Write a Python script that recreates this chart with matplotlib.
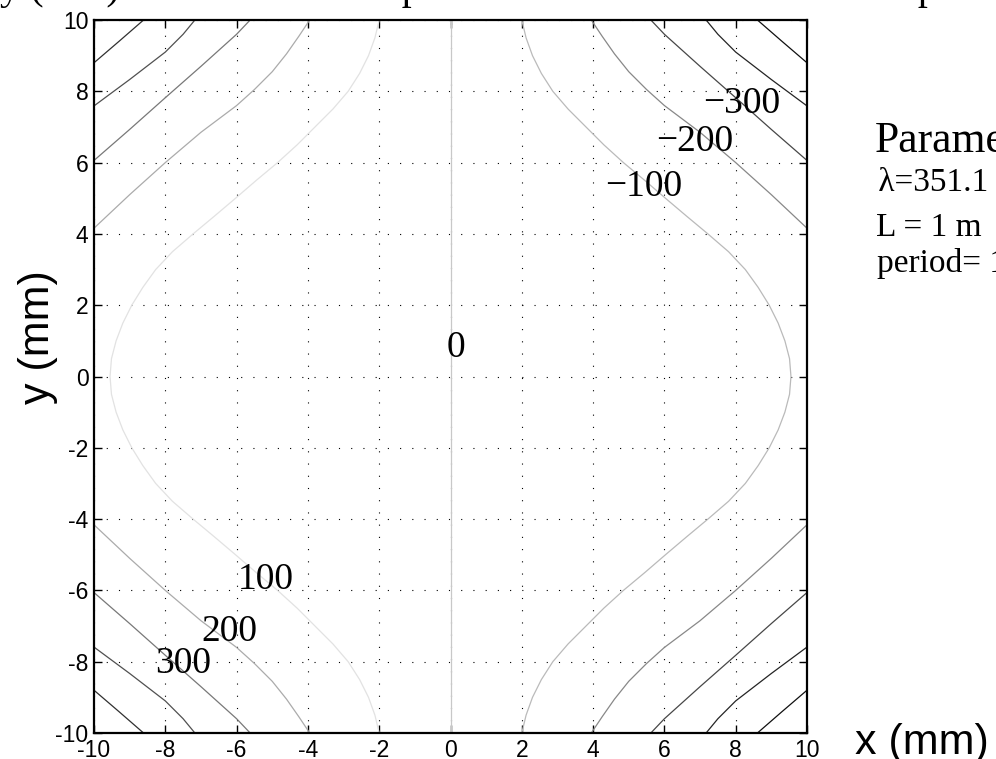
import numpy as np
import matplotlib
matplotlib.use("Agg")
import matplotlib.pyplot as plt

plt.rcParams['axes.unicode_minus'] = False

# contour levels (lower-left quadrant, positive levels)
levels = [100, 200, 300, 400, 500]

lvl100_y = [0.0, -0.5, -1.0, -1.5, -2.0, -2.5, -3.0, -3.5, -4.0, -4.5, -5.0,
            -5.5, -6.0, -6.5, -7.0, -7.5, -8.0, -8.5, -9.0, -9.5, -10.0]
lvl100_x = [-9.55, -9.51, -9.38, -9.19, -8.94, -8.63, -8.27, -7.8, -7.22, -6.62, -6.03,
            -5.45, -4.85, -4.3, -3.8, -3.3, -2.87, -2.55, -2.3, -2.12, -2.0]
lvl200_x = [-10.0, -9.0, -8.0, -7.0, -6.0, -5.5, -5.0, -4.6, -4.25, -3.95]
lvl200_y = [-4.16, -5.1, -6.0, -6.85, -7.6, -8.05, -8.55, -9.05, -9.55, -10.0]
lvl300_x = [-10.0, -9.0, -8.0, -7.0, -6.0, -5.62]
lvl300_y = [-6.06, -6.93, -7.82, -8.7, -9.6, -10.0]
lvl400_x = [-10.0, -9.0, -8.0, -7.5, -7.17]
lvl400_y = [-7.59, -8.33, -9.1, -9.6, -10.0]
lvl500_x = [-10.0, -9.3, -8.61]
lvl500_y = [-8.8, -9.4, -10.0]

# grey shade of each line (positive side, negative side)
pos_colors = ['#e2e2e2', '#ababab', '#787878', '#505050', '#303030']
neg_colors = ['#bababa', '#888888', '#474747', '#242424', '#101010']
zero_color = '#c8c8c8'

# contour labels
label_text = ['0', '100', '200', '300', '\u2212100', '\u2212200', '\u2212300']
label_x = [0.15, -5.18, -6.2, -7.51, 5.41, 6.86, 8.17]
label_y = [0.8, -5.71, -7.16, -8.05, 5.32, 6.59, 7.66]

ticks = np.arange(-10, 11, 2)

fig = plt.figure(figsize=(9.96, 7.59), dpi=100)
ax = fig.add_axes([94 / 996, 26 / 759, 713 / 996, 713 / 759])

curves_x = [lvl100_x, lvl200_x, lvl300_x, lvl400_x, lvl500_x]
curves_y = [lvl100_y, lvl200_y, lvl300_y, lvl400_y, lvl500_y]

for i in range(len(levels)):
    hx = np.array(curves_x[i])
    hy = np.array(curves_y[i])
    if hy[0] != 0.0:
        # curve leaves through the left edge: two separate pieces
        for sy in (1, -1):
            ax.plot(hx, sy * hy, color=pos_colors[i], lw=0.9)
            ax.plot(-hx, sy * hy, color=neg_colors[i], lw=0.9)
    else:
        # lower half + mirrored upper half
        fx = np.concatenate([hx[::-1], hx[1:]])
        fy = np.concatenate([-hy[::-1], hy[1:]])
        ax.plot(fx, fy, color=pos_colors[i], lw=0.9)
        ax.plot(-fx, fy, color=neg_colors[i], lw=0.9)

ax.plot([0, 0], [-10, 10], color=zero_color, lw=0.9)

for t, lx, ly in zip(label_text, label_x, label_y):
    ax.text(lx, ly, t, family='Liberation Serif', fontsize=27,
            ha='center', va='center')

ax.set_xlim(-10, 10)
ax.set_ylim(-10, 10)
ax.set_xticks(ticks)
ax.set_yticks(ticks)
ax.set_xticklabels([str(t) for t in ticks])
ax.set_yticklabels([str(t) for t in ticks])
ax.tick_params(direction='in', length=6, width=1, top=True, right=True,
               labelsize=16.5, pad=4)
for lab in ax.get_xticklabels() + ax.get_yticklabels():
    lab.set_family('Liberation Sans')
for sp in ax.spines.values():
    sp.set_linewidth(1.6)
ax.grid(True, color='k', linestyle=(0, (1, 10)), linewidth=0.8)

fig.text(38 / 996, 1 - 337 / 759, 'y (mm)', family='Liberation Sans',
         fontsize=31, rotation=90, ha='center', va='center')
fig.text(855 / 996, 1 - 743 / 759, 'x (mm)', family='Liberation Sans',
         fontsize=31, ha='left', va='center')

# parameter box on the right (runs off the canvas)
fig.text(875 / 996, 1 - 152 / 759, 'Parameters', family='Liberation Serif',
         fontsize=31.5, ha='left', va='baseline')
fig.text(870 / 996, 1 - 191 / 759, ' \u03bb=351.1 nm', family='Liberation Serif',
         fontsize=24, ha='left', va='baseline')
fig.text(876 / 996, 1 - 236 / 759, 'L = 1 m', family='Liberation Serif',
         fontsize=24, ha='left', va='baseline')
fig.text(877 / 996, 1 - 272 / 759, 'period= 1 \u03bcm', family='Liberation Serif',
         fontsize=24, ha='left', va='baseline')

# title, almost entirely above the canvas
fig.text(0.0, 1 + 1 / 759, 'y (mm) Contour lines of phase difference between the exposure beams',
         family='Liberation Serif', fontsize=29, ha='left', va='baseline')

fig.savefig('out.png', dpi=100)
